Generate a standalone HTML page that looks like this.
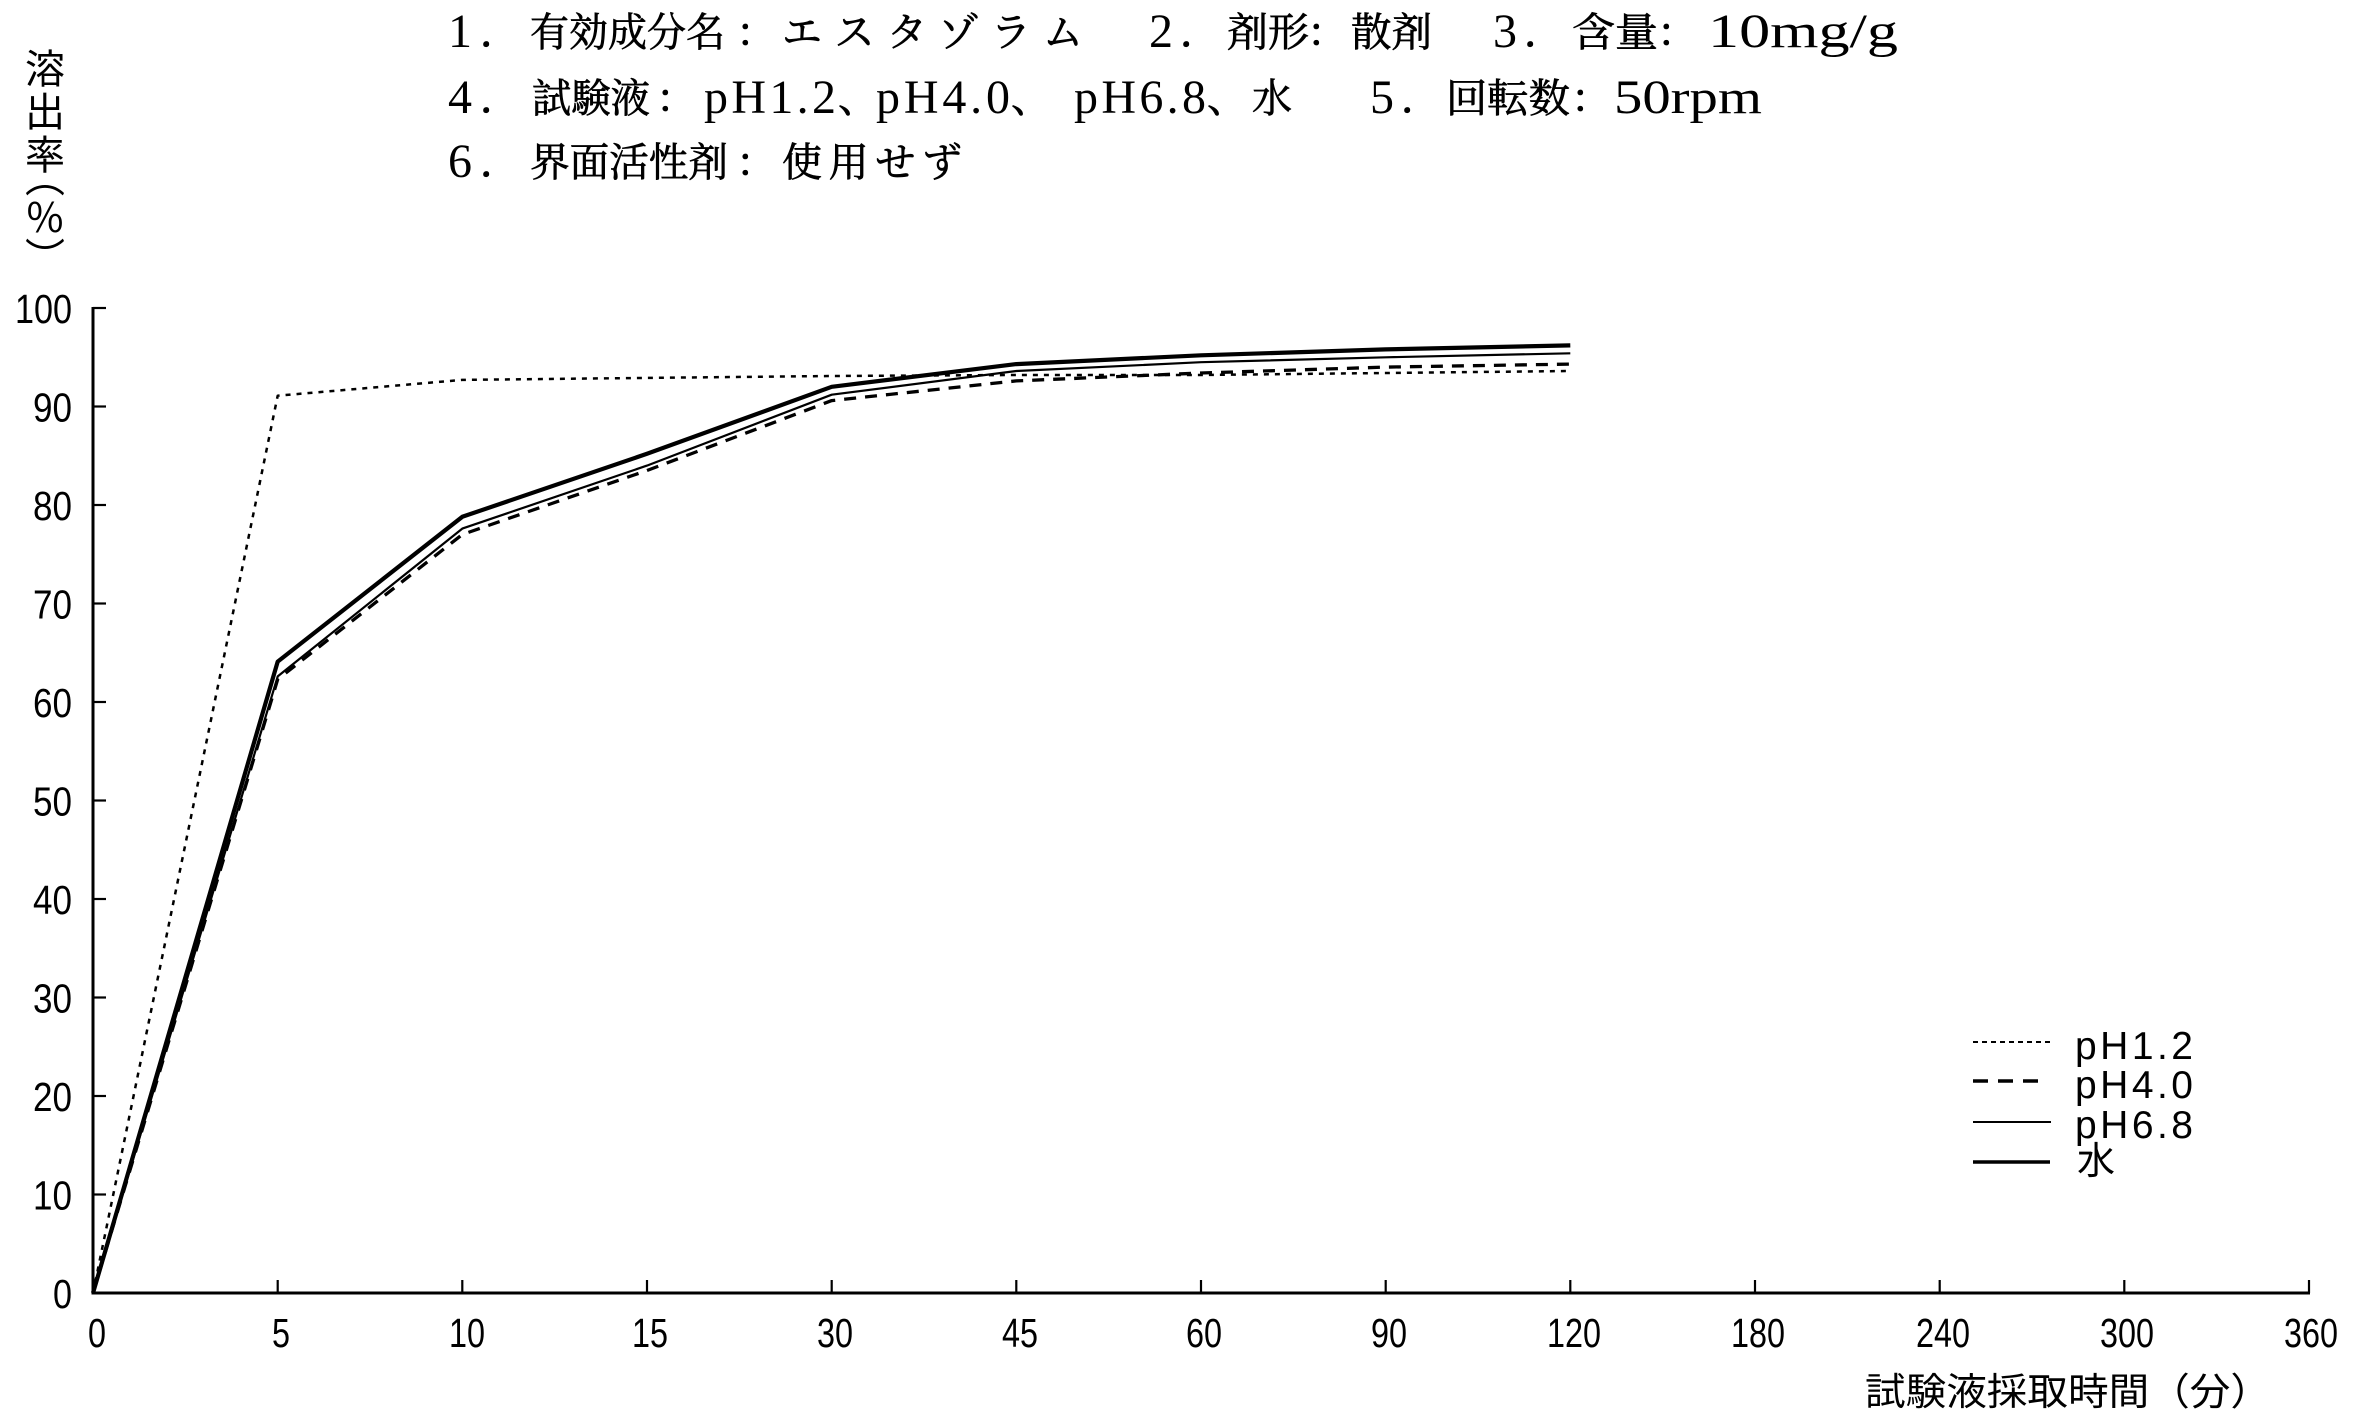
<!DOCTYPE html>
<html>
<head>
<meta charset="utf-8">
<style>
html,body{margin:0;padding:0;background:#fff;}
body{position:relative;width:2362px;height:1417px;overflow:hidden;}
svg{display:block;position:absolute;left:0;top:0;}
.t{font-family:"Liberation Serif","Noto Serif CJK SC",serif;font-size:40px;fill:#000;stroke:#000;stroke-width:0.7px;}
.l{font-family:"Liberation Serif",serif;font-size:48px;fill:#000;}
.n{font-family:"Liberation Sans",sans-serif;font-size:41px;fill:#000;}
.j{font-family:"Liberation Sans","Noto Sans CJK JP",sans-serif;fill:#000;}
#ylab{position:absolute;left:25px;top:48px;writing-mode:vertical-rl;font-family:"Noto Sans CJK JP",sans-serif;font-size:40px;line-height:40px;color:#000;letter-spacing:3px;white-space:nowrap;}
#ylab span{letter-spacing:0;font-feature-settings:"vhal" 1;}
</style>
</head>
<body>
<svg width="2362" height="1417" viewBox="0 0 2362 1417" xmlns="http://www.w3.org/2000/svg">
<rect width="2362" height="1417" fill="#fff"/>

<!-- Title line 1 -->
<g class="l">
<text x="448" y="47">1</text>
<text x="1149" y="47">2</text>
<text x="1493" y="47">3</text>
<text x="1708" y="47" textLength="190" lengthAdjust="spacingAndGlyphs">10mg/g</text>
</g>
<g class="t">
<text x="480" y="46">．</text>
<text x="530" y="46" textLength="195" lengthAdjust="spacingAndGlyphs">有効成分名</text>
<text x="736" y="46">：</text>
<text x="782" y="46" textLength="301" lengthAdjust="spacing">エスタゾラム</text>
<text x="1180" y="46">．</text>
<text x="1227" y="46" textLength="82" lengthAdjust="spacingAndGlyphs">剤形</text>
<text x="1307" y="46">：</text>
<text x="1351" y="46" textLength="81" lengthAdjust="spacingAndGlyphs">散剤</text>
<text x="1524" y="46">．</text>
<text x="1572" y="46" textLength="86" lengthAdjust="spacingAndGlyphs">含量</text>
<text x="1657" y="46">：</text>
</g>
<!-- Title line 2 -->
<g class="l">
<text x="448" y="113">4</text>
<text x="704" y="113" textLength="132" lengthAdjust="spacing">pH1.2</text>
<text x="876" y="113" textLength="134" lengthAdjust="spacing">pH4.0</text>
<text x="1074" y="113" textLength="132" lengthAdjust="spacing">pH6.8</text>
<text x="1370" y="113">5</text>
<text x="1614" y="113" textLength="148" lengthAdjust="spacingAndGlyphs">50rpm</text>
</g>
<g class="t">
<text x="480" y="112">．</text>
<text x="532" y="112" textLength="118" lengthAdjust="spacingAndGlyphs">試験液</text>
<text x="656" y="112">：</text>
<text x="838" y="112">、</text>
<text x="1011" y="112">、</text>
<text x="1207" y="112">、</text>
<text x="1252" y="112">水</text>
<text x="1401" y="112">．</text>
<text x="1446" y="112" textLength="124" lengthAdjust="spacingAndGlyphs">回転数</text>
<text x="1571" y="112">：</text>
</g>
<!-- Title line 3 -->
<g class="l">
<text x="448" y="177">6</text>
</g>
<g class="t">
<text x="480" y="176">．</text>
<text x="530" y="176" textLength="198" lengthAdjust="spacingAndGlyphs">界面活性剤</text>
<text x="736" y="176">：</text>
<text x="782" y="176" textLength="180" lengthAdjust="spacing">使用せず</text>
</g>

<!-- Axes -->
<g stroke="#000" fill="none">
<line x1="93" y1="307" x2="93" y2="1294.5" stroke-width="3"/>
<line x1="91.5" y1="1293" x2="2310" y2="1293" stroke-width="3"/>
<g stroke-width="2.2">
<line x1="93" y1="308" x2="106" y2="308"/>
<line x1="93" y1="406.5" x2="106" y2="406.5"/>
<line x1="93" y1="505" x2="106" y2="505"/>
<line x1="93" y1="603.5" x2="106" y2="603.5"/>
<line x1="93" y1="702" x2="106" y2="702"/>
<line x1="93" y1="800.5" x2="106" y2="800.5"/>
<line x1="93" y1="899" x2="106" y2="899"/>
<line x1="93" y1="997.5" x2="106" y2="997.5"/>
<line x1="93" y1="1096" x2="106" y2="1096"/>
<line x1="93" y1="1194.5" x2="106" y2="1194.5"/>
</g>
<g stroke-width="2.2">
<line x1="277.7" y1="1293" x2="277.7" y2="1280"/>
<line x1="462.3" y1="1293" x2="462.3" y2="1280"/>
<line x1="647" y1="1293" x2="647" y2="1280"/>
<line x1="831.7" y1="1293" x2="831.7" y2="1280"/>
<line x1="1016.3" y1="1293" x2="1016.3" y2="1280"/>
<line x1="1201" y1="1293" x2="1201" y2="1280"/>
<line x1="1385.7" y1="1293" x2="1385.7" y2="1280"/>
<line x1="1570.3" y1="1293" x2="1570.3" y2="1280"/>
<line x1="1755" y1="1293" x2="1755" y2="1280"/>
<line x1="1939.7" y1="1293" x2="1939.7" y2="1280"/>
<line x1="2124.3" y1="1293" x2="2124.3" y2="1280"/>
<line x1="2309" y1="1293" x2="2309" y2="1280"/>
</g>
</g>

<!-- Y tick labels -->
<g class="n" text-anchor="end">
<text x="72" y="323" textLength="57" lengthAdjust="spacingAndGlyphs">100</text>
<text x="72" y="421.5" textLength="39" lengthAdjust="spacingAndGlyphs">90</text>
<text x="72" y="520" textLength="39" lengthAdjust="spacingAndGlyphs">80</text>
<text x="72" y="618.5" textLength="39" lengthAdjust="spacingAndGlyphs">70</text>
<text x="72" y="717" textLength="39" lengthAdjust="spacingAndGlyphs">60</text>
<text x="72" y="815.5" textLength="39" lengthAdjust="spacingAndGlyphs">50</text>
<text x="72" y="914" textLength="39" lengthAdjust="spacingAndGlyphs">40</text>
<text x="72" y="1012.5" textLength="39" lengthAdjust="spacingAndGlyphs">30</text>
<text x="72" y="1111" textLength="39" lengthAdjust="spacingAndGlyphs">20</text>
<text x="72" y="1209.5" textLength="39" lengthAdjust="spacingAndGlyphs">10</text>
<text x="72" y="1308" textLength="19" lengthAdjust="spacingAndGlyphs">0</text>
</g>

<!-- X tick labels -->
<g class="n" text-anchor="middle">
<text x="97" y="1347" textLength="18" lengthAdjust="spacingAndGlyphs">0</text>
<text x="281" y="1347" textLength="18" lengthAdjust="spacingAndGlyphs">5</text>
<text x="467" y="1347" textLength="36" lengthAdjust="spacingAndGlyphs">10</text>
<text x="650" y="1347" textLength="36" lengthAdjust="spacingAndGlyphs">15</text>
<text x="835" y="1347" textLength="36" lengthAdjust="spacingAndGlyphs">30</text>
<text x="1020" y="1347" textLength="36" lengthAdjust="spacingAndGlyphs">45</text>
<text x="1204" y="1347" textLength="36" lengthAdjust="spacingAndGlyphs">60</text>
<text x="1389" y="1347" textLength="36" lengthAdjust="spacingAndGlyphs">90</text>
<text x="1574" y="1347" textLength="54" lengthAdjust="spacingAndGlyphs">120</text>
<text x="1758" y="1347" textLength="54" lengthAdjust="spacingAndGlyphs">180</text>
<text x="1943" y="1347" textLength="54" lengthAdjust="spacingAndGlyphs">240</text>
<text x="2127" y="1347" textLength="54" lengthAdjust="spacingAndGlyphs">300</text>
<text x="2311" y="1347" textLength="54" lengthAdjust="spacingAndGlyphs">360</text>
</g>

<!-- X axis title -->
<text class="j" x="1865" y="1405" font-size="38" textLength="406" lengthAdjust="spacingAndGlyphs">試験液採取時間（分）</text>

<!-- Series -->
<g fill="none" stroke="#000" stroke-linejoin="round">
<polyline stroke-width="2.5" stroke-dasharray="5 6" points="93,1293 277.7,395.7 462.3,379.9 647,377.9 831.7,376 1016.3,375 1201,375 1385.7,373 1570.3,371"/>
<polyline stroke-width="3.3" stroke-dasharray="12 9" points="93,1293 277.7,679.3 462.3,534.5 647,470.5 831.7,400.6 1016.3,380.9 1201,373 1385.7,367.1 1570.3,364.1"/>
<polyline stroke-width="2.2" points="93,1293 277.7,676.4 462.3,528.6 647,465.6 831.7,394.7 1016.3,371 1201,362.2 1385.7,357.3 1570.3,353.3"/>
<polyline stroke-width="4.2" points="93,1293 277.7,661.6 462.3,516.8 647,453.8 831.7,386.8 1016.3,364.1 1201,355.3 1385.7,349.4 1570.3,345.4"/>
</g>

<!-- Legend -->
<g fill="none" stroke="#000">
<line x1="1973" y1="1042" x2="2050" y2="1042" stroke-width="2" stroke-dasharray="5 4"/>
<line x1="1973" y1="1081" x2="2040" y2="1081" stroke-width="3.5" stroke-dasharray="15 10"/>
<line x1="1973" y1="1122" x2="2051" y2="1122" stroke-width="2"/>
<line x1="1973" y1="1162" x2="2050" y2="1162" stroke-width="3.5"/>
</g>
<g class="j" font-size="39">
<text x="2075" y="1059" textLength="118" lengthAdjust="spacing">pH1.2</text>
<text x="2075" y="1098" textLength="118" lengthAdjust="spacing">pH4.0</text>
<text x="2075" y="1138" textLength="118" lengthAdjust="spacing">pH6.8</text>
<text x="2077" y="1174" font-size="38">水</text>
</g>
</svg>
<div id="ylab">溶出率<span>（％）</span></div>
</body>
</html>
